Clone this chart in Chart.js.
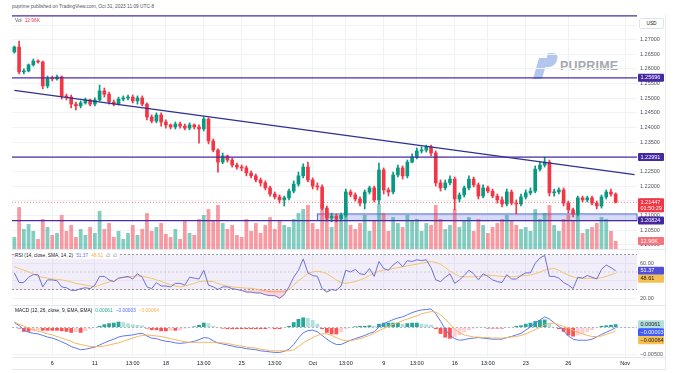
<!DOCTYPE html>
<html>
<head>
<meta charset="utf-8">
<title>GBPUSD 4H - PU Prime</title>
<script src="https://cdn.jsdelivr.net/npm/chart.js@4.4.1/dist/chart.umd.min.js"></script>
<style>
  html, body { margin: 0; padding: 0; background: #fff; }
  body { width: 679px; height: 373px; position: relative; overflow: hidden; font-family: "Liberation Sans", Arial, sans-serif; }
  canvas { position: absolute; left: 0; }
  #mainChart { top: 15px; }
  #rsiChart { top: 249px; }
  #macdChart { top: 305px; }
  .lbl { position: absolute; font-size: 4.8px; line-height: 6px; color: #131722; white-space: nowrap; }
  .lbl span { margin-left: 3px; }
  .line { position: absolute; background: #e6e8ee; }
  #usd { position: absolute; left: 639px; top: 18px; width: 23px; height: 9px; border: 1px solid #e0e3eb; border-radius: 2px; background: #fff;
         font-size: 4.8px; line-height: 9px; text-align: center; color: #131722; z-index: 5; }
  .logo { position: absolute; background: #b3c6ed; transform: skewX(-16deg); }
  #brand { position: absolute; left: 560px; top: 59px; font-size: 12.5px; font-weight: bold; color: #a5a8b0; letter-spacing: 0.2px; }
</style>
</head>
<body>
<div class="logo" style="left:536px;top:58px;width:9px;height:21px;"></div>
<div class="logo" style="left:546px;top:53px;width:11px;height:14px;border-radius:0 6px 6px 0;"></div>
<div id="brand">PUPRIME</div>

<canvas id="mainChart" width="679" height="234"></canvas>
<canvas id="rsiChart" width="679" height="56"></canvas>
<canvas id="macdChart" width="679" height="65"></canvas>

<div class="line" style="left:12px;top:249px;width:653px;height:1px;"></div>
<div class="line" style="left:12px;top:305px;width:653px;height:1px;"></div>
<div class="line" style="left:12px;top:357px;width:653px;height:1px;"></div>
<div class="line" style="left:12px;top:369px;width:653px;height:1px;"></div>
<div class="line" style="left:665px;top:15px;width:1px;height:355px;"></div>

<div class="lbl" style="left:12px;top:4px;color:#50535e;">puprime published on TradingView.com, Oct 31, 2023 11:09 UTC-8</div>
<div class="lbl" style="left:15px;top:18px;color:#50535e;">Vol<span style="color:#f23645;">12.96K</span></div>
<div class="lbl" style="left:15px;top:253px;background:#fff;padding-right:2px;">RSI (14, close, SMA, 14, 2)<span style="color:#6e6fdc;">51.37</span><span style="color:#f5b14c;">48.61</span><span style="color:#787b86;">∅</span><span style="color:#787b86;">∅</span></div>
<div class="lbl" style="left:15px;top:308px;">MACD (12, 26, close, 9, EMA, EMA)<span style="color:#26a69a;">0.00061</span><span style="color:#4d6ef5;">−0.00003</span><span style="color:#f5b14c;">−0.00064</span></div>
<div id="usd">USD</div>

<script>
// --- Données (GBPUSD 4H) ---
const firstOpen = 1.2658;
const closes = [
  1.2675, 1.2590, 1.2593, 1.2614, 1.2627, 1.2624, 1.2542, 1.2569, 1.2566, 1.2573,
  1.2508, 1.2504, 1.2480, 1.2474, 1.2484, 1.2494, 1.2480, 1.2494, 1.2525, 1.2514,
  1.2487, 1.2480, 1.2497, 1.2501, 1.2504, 1.2491, 1.2501, 1.2480, 1.2436, 1.2422,
  1.2443, 1.2419, 1.2409, 1.2402, 1.2412, 1.2405, 1.2398, 1.2409, 1.2402, 1.2395,
  1.2429, 1.2354, 1.2323, 1.2282, 1.2303, 1.2289, 1.2272, 1.2265, 1.2262, 1.2245,
  1.2235, 1.2221, 1.2211, 1.2194, 1.2173, 1.2163, 1.2153, 1.2160, 1.2183, 1.2207,
  1.2235, 1.2265, 1.2221, 1.2200, 1.2197, 1.2125, 1.2091, 1.2098, 1.2088, 1.2101,
  1.2180, 1.2170, 1.2156, 1.2142, 1.2180, 1.2194, 1.2153, 1.2255, 1.2187, 1.2180,
  1.2238, 1.2262, 1.2235, 1.2282, 1.2299, 1.2320, 1.2323, 1.2334, 1.2313, 1.2211,
  1.2194, 1.2211, 1.2224, 1.2156, 1.2170, 1.2194, 1.2224, 1.2204, 1.2166, 1.2194,
  1.2183, 1.2166, 1.2153, 1.2139, 1.2180, 1.2142, 1.2139, 1.2163, 1.2177, 1.2183,
  1.2258, 1.2272, 1.2282, 1.2177, 1.2180, 1.2187, 1.2142, 1.2119, 1.2105, 1.2160,
  1.2153, 1.2160, 1.2142, 1.2132, 1.2163, 1.2180, 1.2173, 1.21447
];
const highs = [
  1.2678, 1.2695, 1.2600, 1.2617, 1.2634, 1.2631, 1.2627, 1.2576, 1.2576, 1.2579,
  1.2576, 1.2514, 1.2511, 1.2487, 1.2491, 1.2501, 1.2497, 1.2501, 1.2545, 1.2535,
  1.2521, 1.2494, 1.2504, 1.2508, 1.2511, 1.2511, 1.2508, 1.2508, 1.2484, 1.2443,
  1.2450, 1.2450, 1.2426, 1.2412, 1.2419, 1.2419, 1.2412, 1.2416, 1.2412, 1.2409,
  1.2436, 1.2433, 1.2361, 1.2327, 1.2313, 1.2306, 1.2296, 1.2279, 1.2272, 1.2269,
  1.2252, 1.2241, 1.2228, 1.2218, 1.2200, 1.2180, 1.2170, 1.2166, 1.2190, 1.2218,
  1.2248, 1.2276, 1.2282, 1.2228, 1.2211, 1.2204, 1.2132, 1.2108, 1.2105, 1.2108,
  1.2190, 1.2187, 1.2177, 1.2163, 1.2187, 1.2200, 1.2200, 1.2279, 1.2262, 1.2194,
  1.2248, 1.2272, 1.2269, 1.2289, 1.2310, 1.2330, 1.2334, 1.2340, 1.2340, 1.2320,
  1.2221, 1.2221, 1.2235, 1.2231, 1.2177, 1.2200, 1.2235, 1.2231, 1.2211, 1.2204,
  1.2200, 1.2190, 1.2173, 1.2163, 1.2190, 1.2187, 1.2153, 1.2173, 1.2187, 1.2194,
  1.2269, 1.2282, 1.2299, 1.2289, 1.2190, 1.2194, 1.2194, 1.2149, 1.2125, 1.2166,
  1.2166, 1.2166, 1.2166, 1.2149, 1.2170, 1.2187, 1.2190, 1.2177
];
const lows = [
  1.2654, 1.2583, 1.2583, 1.2590, 1.2610, 1.2620, 1.2532, 1.2535, 1.2559, 1.2562,
  1.2497, 1.2494, 1.2467, 1.2460, 1.2467, 1.2480, 1.2474, 1.2474, 1.2491, 1.2504,
  1.2480, 1.2474, 1.2477, 1.2491, 1.2494, 1.2484, 1.2480, 1.2474, 1.2426, 1.2416,
  1.2416, 1.2405, 1.2398, 1.2395, 1.2395, 1.2398, 1.2392, 1.2392, 1.2395, 1.2347,
  1.2388, 1.2344, 1.2317, 1.2248, 1.2276, 1.2282, 1.2265, 1.2258, 1.2252, 1.2235,
  1.2228, 1.2214, 1.2200, 1.2187, 1.2166, 1.2156, 1.2142, 1.2132, 1.2153, 1.2177,
  1.2200, 1.2228, 1.2214, 1.2190, 1.2187, 1.2119, 1.2081, 1.2078, 1.2078, 1.2081,
  1.2095, 1.2163, 1.2149, 1.2132, 1.2122, 1.2173, 1.2146, 1.2139, 1.2173, 1.2166,
  1.2173, 1.2231, 1.2224, 1.2228, 1.2279, 1.2293, 1.2313, 1.2316, 1.2303, 1.2200,
  1.2183, 1.2187, 1.2204, 1.2119, 1.2146, 1.2163, 1.2187, 1.2197, 1.2156, 1.2160,
  1.2177, 1.2160, 1.2142, 1.2129, 1.2132, 1.2136, 1.2105, 1.2132, 1.2156, 1.2170,
  1.2177, 1.2252, 1.2265, 1.2166, 1.2166, 1.2173, 1.2132, 1.2108, 1.2095, 1.2098,
  1.2146, 1.2146, 1.2136, 1.2122, 1.2125, 1.2156, 1.2166, 1.2142
];
// volume en milliers
const volumes = [
  19.4, 68.0, 32.4, 40.5, 29.2, 16.2, 48.6, 35.6, 22.7, 25.9,
  55.1, 29.2, 38.9, 19.4, 32.4, 22.7, 35.6, 25.9, 61.6, 32.4,
  42.1, 19.4, 29.2, 16.2, 25.9, 38.9, 22.7, 32.4, 58.3, 29.2,
  35.6, 42.1, 24.3, 19.4, 32.4, 16.2, 45.4, 25.9, 22.7, 48.6,
  55.1, 64.8, 45.4, 71.3, 42.1, 32.4, 38.9, 22.7, 19.4, 48.6,
  29.2, 42.1, 25.9, 38.9, 51.8, 32.4, 45.4, 38.9, 35.6, 48.6,
  58.3, 64.8, 71.3, 42.1, 32.4, 72.9, 61.6, 35.6, 48.6, 45.4,
  68.0, 38.9, 32.4, 42.1, 55.1, 29.2, 45.4, 72.9, 58.3, 29.2,
  51.8, 42.1, 35.6, 55.1, 45.4, 48.6, 29.2, 42.1, 38.9, 71.3,
  48.6, 32.4, 38.9, 64.8, 35.6, 45.4, 51.8, 29.2, 48.6, 38.9,
  25.9, 35.6, 42.1, 48.6, 55.1, 45.4, 38.9, 32.4, 35.6, 29.2,
  64.8, 48.6, 58.3, 71.3, 38.9, 29.2, 48.6, 55.1, 45.4, 61.6,
  25.9, 32.4, 35.6, 42.1, 51.8, 48.6, 29.2, 12.96
];
const rsi = [
  49, 38, 38, 44, 47, 47, 33, 41, 41, 40,
  33, 32, 29, 29, 31, 32, 31, 35, 45, 45,
  41, 39, 43, 44, 45, 42, 48, 44, 33, 31,
  38, 34, 34, 33, 37, 37, 35, 44, 43, 42,
  52, 35, 33, 30, 33, 33, 31, 30, 29, 27,
  27, 26, 26, 24, 23, 23, 20, 24, 33, 44,
  52, 65, 49, 46, 45, 31, 27, 30, 29, 34,
  52, 50, 53, 48, 47, 54, 45, 62, 54, 52,
  58, 62, 56, 63, 62, 64, 63, 64, 55, 41,
  39, 44, 48, 37, 41, 46, 52, 48, 41, 48,
  45, 41, 39, 38, 47, 42, 42, 46, 49, 49,
  60, 66, 69, 45, 45, 43, 38, 35, 31, 44,
  43, 46, 44, 42, 53, 58, 55, 51.37
];
const rsiMa = [
  56, 54, 52, 50, 48, 45, 44, 43, 42, 41.5,
  41, 40, 38.5, 37, 36, 35, 34, 33, 35, 37,
  38.5, 40, 42.8, 43.5, 44, 45, 45.8, 45, 44, 42.8,
  41, 39.5, 37, 35.5, 34, 33, 34, 35.5, 37, 39,
  39.5, 39.5, 39, 37, 35, 34, 33, 32.5, 32, 31.5,
  31.4, 30.5, 29.5, 28.5, 27.5, 27.5, 27.5, 27.5, 30, 35,
  40, 44, 48.5, 50, 51, 50, 48, 44.6, 41, 38,
  37, 38, 39, 41, 43, 46, 49, 51, 52, 53,
  54, 55, 56, 57, 58, 59, 60, 61, 62, 61,
  59, 55, 51, 48, 45, 44.5, 44.5, 44.5, 45, 45.5,
  46.5, 46, 45.5, 45, 44.5, 44.5, 45, 45.5, 46, 46.5,
  48, 50, 52, 53.5, 54, 52, 49, 46.5, 44.5, 43,
  42.8, 42.8, 42.8, 43, 43.5, 45, 47, 48.61
];
const macdLine = [
  0.0009, 0.0004, -0.0005, -0.0009, -0.0011, -0.0012, -0.0015, -0.0018, -0.0020, -0.0023,
  -0.0027, -0.0031, -0.0036, -0.0039, -0.0042, -0.0041, -0.0039, -0.0037, -0.0033, -0.0029,
  -0.0025, -0.0022, -0.0018, -0.0016, -0.0015, -0.0014, -0.0012, -0.0011, -0.0016, -0.0020,
  -0.0021, -0.0024, -0.0026, -0.0027, -0.0029, -0.0030, -0.0029, -0.0028, -0.0026, -0.0023,
  -0.0019, -0.0020, -0.0025, -0.0029, -0.0031, -0.0033, -0.0035, -0.0037, -0.0038, -0.0040,
  -0.0041, -0.0042, -0.0044, -0.0045, -0.0046, -0.0047, -0.0047, -0.0045, -0.0041, -0.0032,
  -0.0020, -0.0010, -0.0006, -0.0005, -0.0008, -0.0015, -0.0022, -0.0028, -0.0032, -0.0032,
  -0.0028, -0.0024, -0.0021, -0.0018, -0.0015, -0.0011, -0.0008, 0.0001, 0.0007, 0.0011,
  0.0015, 0.0018, 0.0020, 0.0024, 0.0028, 0.0031, 0.0033, 0.0034, 0.0035, 0.0026,
  0.0012, -0.0003, -0.0015, -0.0021, -0.0024, -0.0023, -0.0021, -0.0020, -0.0019, -0.0020,
  -0.0021, -0.0022, -0.0022, -0.0022, -0.0019, -0.0017, -0.0014, -0.0011, -0.0005, 0.0001,
  0.0008, 0.0014, 0.0020, 0.0016, 0.0009, 0.0002, -0.0006, -0.0016, -0.0022, -0.0024,
  -0.0024, -0.0024, -0.0022, -0.0018, -0.0013, -0.0009, -0.0005, -0.00003
];
const signalLine = [
  0.0010, 0.0006, 0.0003, -0.0001, -0.0004, -0.0007, -0.0009, -0.0012, -0.0014, -0.0017,
  -0.0020, -0.0023, -0.0026, -0.0030, -0.0032, -0.0034, -0.0036, -0.0036, -0.0036, -0.0035,
  -0.0033, -0.0031, -0.0029, -0.0026, -0.0023, -0.0020, -0.0017, -0.0015, -0.0014, -0.0015,
  -0.0016, -0.0017, -0.0019, -0.0021, -0.0023, -0.0025, -0.0027, -0.0028, -0.0028, -0.0028,
  -0.0028, -0.0028, -0.0028, -0.0029, -0.0029, -0.0030, -0.0032, -0.0034, -0.0035, -0.0037,
  -0.0038, -0.0039, -0.0041, -0.0042, -0.0044, -0.0044, -0.0044, -0.0044, -0.0044, -0.0042,
  -0.0036, -0.0029, -0.0024, -0.0019, -0.0015, -0.0012, -0.0012, -0.0015, -0.0019, -0.0023,
  -0.0025, -0.0025, -0.0023, -0.0021, -0.0018, -0.0015, -0.0011, -0.0006, -0.0002, 0.0002,
  0.0006, 0.0009, 0.0013, 0.0016, 0.0019, 0.0022, 0.0026, 0.0028, 0.0030, 0.0029,
  0.0024, 0.0016, 0.0006, -0.0003, -0.0010, -0.0014, -0.0016, -0.0018, -0.0018, -0.0019,
  -0.0019, -0.0020, -0.0020, -0.0020, -0.0019, -0.0018, -0.0017, -0.0015, -0.0012, -0.0008,
  -0.0004, 0.0000, 0.0005, 0.0008, 0.0008, 0.0005, 0.0002, -0.0001, -0.0005, -0.0009,
  -0.0012, -0.0015, -0.0017, -0.0017, -0.0016, -0.0013, -0.0010, -0.00064
];
const macdHist = [
  -0.0001, -0.0002, -0.0008, -0.0008, -0.0007, -0.0005, -0.0006, -0.0006, -0.0006, -0.0006,
  -0.0007, -0.0008, -0.0010, -0.0009, -0.0010, -0.0007, -0.0003, -0.0001, 0.0003, 0.0006,
  0.0008, 0.0009, 0.0011, 0.0010, 0.0008, 0.0006, 0.0005, 0.0004, -0.0002, -0.0005,
  -0.0005, -0.0007, -0.0007, -0.0006, -0.0006, -0.0005, -0.0002, 0.0000, 0.0002, 0.0005,
  0.0009, 0.0008, 0.0003, 0.0000, -0.0002, -0.0003, -0.0003, -0.0003, -0.0003, -0.0003,
  -0.0003, -0.0003, -0.0003, -0.0003, -0.0002, -0.0003, -0.0003, -0.0001, 0.0003, 0.0010,
  0.0016, 0.0019, 0.0018, 0.0014, 0.0007, -0.0003, -0.0010, -0.0013, -0.0013, -0.0009,
  -0.0003, 0.0001, 0.0002, 0.0003, 0.0003, 0.0004, 0.0003, 0.0007, 0.0009, 0.0009,
  0.0009, 0.0009, 0.0007, 0.0008, 0.0009, 0.0009, 0.0007, 0.0006, 0.0005, -0.0003,
  -0.0012, -0.0019, -0.0021, -0.0018, -0.0014, -0.0009, -0.0005, -0.0002, -0.0001, -0.0001,
  -0.0002, -0.0002, -0.0002, -0.0002, 0.0000, 0.0001, 0.0003, 0.0004, 0.0007, 0.0009,
  0.0012, 0.0014, 0.0015, 0.0008, 0.0001, -0.0003, -0.0008, -0.0015, -0.0017, -0.0015,
  -0.0012, -0.0009, -0.0005, -0.0001, 0.0003, 0.0004, 0.0005, 0.00061
];

// libellés de l'axe du temps (index de bougie -> texte)
const xTickLabels = {
  8: '6', 17: '11', 25: '13:00', 32: '18', 40: '13:00', 48: '25', 55: '13:00', 63: 'Oct',
  70: '13:00', 78: '9', 85: '13:00', 93: '16', 100: '13:00', 108: '23', 117: '26', 129: 'Nov'
};
const emptyBarsRight = 4;

// dessins : niveaux horizontaux, oblique, zone de support
const levelPrices = [1.2781, 1.25696, 1.22991, 1.20824];
const trendFrom = 1.2527;
const trendTo = 1.2239;
const zoneStartBar = 64;
const zoneTop = 1.2105;
const zoneBottom = 1.20824;
const countdown = '01:50:29';

// --- Couleurs ---
const UP = '#089981', DOWN = '#f23645';
const UP_VOL = 'rgba(8,153,129,0.5)', DOWN_VOL = 'rgba(242,54,69,0.5)';
const LEVEL_COLOR = '#4a2ca5';
const GRID = '#f1f2f6';
const FONT = '"Liberation Sans", Arial, sans-serif';

Chart.defaults.font.family = FONT;
Chart.defaults.animation = false;

const nSlots = closes.length + emptyBarsRight;
const slots = Array.from({ length: nSlots }, (_, i) => i);
const opens = closes.map((c, i) => i === 0 ? firstOpen : closes[i - 1]);
const isUp = closes.map((c, i) => c >= opens[i]);
const lastPrice = closes[closes.length - 1];
const lastVol = volumes[volumes.length - 1];

function xAxis(showLabels) {
  return {
    offset: true,
    grid: {
      offset: false,
      drawTicks: false,
      color: c => (xTickLabels[c.index] !== undefined) ? GRID : 'rgba(0,0,0,0)'
    },
    border: { display: false },
    ticks: {
      display: showLabels,
      autoSkip: false,
      maxRotation: 0,
      padding: 3,
      color: '#131722',
      font: { size: 5.5 },
      callback: (v, i) => xTickLabels[i] ?? ''
    },
    afterFit: s => { s.height = showLabels ? 13 : 0; }
  };
}

function yAxis(min, max, step, fmt) {
  return {
    position: 'right',
    min, max,
    grid: { color: GRID, drawTicks: false },
    border: { display: false },
    ticks: {
      stepSize: step,
      includeBounds: false,
      padding: 3,
      color: '#50535e',
      font: { size: 5.5 },
      callback: fmt
    },
    afterFit: s => { s.width = 28; s.paddingTop = 0; s.paddingBottom = 0; }
  };
}

// étiquettes colorées sur l'axe de droite (décalées pour ne pas se chevaucher)
function drawBadges(chart, items) {
  const ctx = chart.ctx, area = chart.chartArea;
  const x = area.right + 1, w = 26;
  const placed = items
    .map(it => ({ ...it, y: chart.scales[it.axis].getPixelForValue(it.value) }))
    .filter(it => it.y > area.top + 6)
    .sort((a, b) => a.y - b.y);
  let lastBottom = -Infinity;
  ctx.save();
  ctx.font = '5.5px ' + FONT;
  ctx.textBaseline = 'middle';
  ctx.textAlign = 'left';
  placed.forEach(b => {
    const h = b.lines.length * 6 + 2;
    let top = b.y - 4;
    if (top < lastBottom) top = lastBottom;
    ctx.fillStyle = b.bg;
    ctx.beginPath();
    ctx.roundRect(x, top, w, h, 1);
    ctx.fill();
    ctx.fillStyle = b.fg;
    b.lines.forEach((t, k) => ctx.fillText(t, x + 2.5, top + 4 + k * 6));
    lastBottom = top + h;
  });
  ctx.restore();
}

// --- Graphique principal : bougies + volume ---
const mainOverlay = {
  id: 'mainOverlay',
  beforeDatasetsDraw(chart) {
    const { ctx, chartArea: a, scales: { x, y } } = chart;
    const left = x.getPixelForValue(zoneStartBar);
    const top = y.getPixelForValue(zoneTop), bottom = y.getPixelForValue(zoneBottom);
    ctx.save();
    ctx.fillStyle = 'rgba(92,110,225,0.25)';
    ctx.fillRect(left, top, a.right - left, bottom - top);
    ctx.strokeStyle = '#5468d8';
    ctx.lineWidth = 1;
    ctx.strokeRect(left, top, a.right - left, bottom - top);
    ctx.restore();
  },
  afterDatasetsDraw(chart) {
    const { ctx, chartArea: a, scales: { y } } = chart;
    ctx.save();
    ctx.strokeStyle = LEVEL_COLOR;
    ctx.lineWidth = 1.3;
    levelPrices.forEach(p => {
      const py = y.getPixelForValue(p);
      ctx.beginPath(); ctx.moveTo(a.left, py); ctx.lineTo(a.right, py); ctx.stroke();
    });
    const ly = y.getPixelForValue(lastPrice);
    ctx.strokeStyle = 'rgba(242,54,69,0.6)';
    ctx.lineWidth = 1;
    ctx.setLineDash([1, 2]);
    ctx.beginPath(); ctx.moveTo(a.left, ly); ctx.lineTo(a.right, ly); ctx.stroke();
    ctx.restore();
  },
  afterDraw(chart) {
    const items = levelPrices.map(p => ({ axis: 'y', value: p, lines: [p.toFixed(5)], bg: '#4527a0', fg: '#fff' }));
    items.push({ axis: 'y', value: lastPrice, lines: [lastPrice.toFixed(5), countdown], bg: DOWN, fg: '#fff' });
    items.push({ axis: 'yVol', value: lastVol, lines: [lastVol.toFixed(2) + 'K'], bg: '#f6747e', fg: '#fff' });
    drawBadges(chart, items);
  }
};

const trendData = slots.map(i => i === 0 ? trendFrom : (i === nSlots - 1 ? trendTo : null));

new Chart(document.getElementById('mainChart'), {
  type: 'bar',
  data: {
    labels: slots,
    datasets: [
      {
        label: 'Volume', data: volumes, yAxisID: 'yVol', order: 3,
        backgroundColor: volumes.map((v, i) => isUp[i] ? UP_VOL : DOWN_VOL),
        barPercentage: 0.8, categoryPercentage: 1, grouped: false
      },
      {
        label: 'Mèches', data: lows.map((l, i) => [l, highs[i]]), order: 2,
        backgroundColor: isUp.map(u => u ? UP : DOWN), barThickness: 1, grouped: false
      },
      {
        label: 'Corps', data: opens.map((o, i) => [o, closes[i]]), order: 1,
        backgroundColor: isUp.map(u => u ? UP : DOWN), barThickness: 3, minBarLength: 1, grouped: false
      },
      {
        type: 'line', label: 'Tendance', data: trendData, order: 0, spanGaps: true,
        borderColor: '#2f3191', borderWidth: 1.3, pointRadius: 0
      }
    ]
  },
  options: {
    responsive: false,
    devicePixelRatio: 1,
    layout: { padding: { left: 12, right: 14, top: 0, bottom: 0 } },
    plugins: { legend: { display: false }, tooltip: { enabled: false } },
    scales: {
      x: xAxis(false),
      y: yAxis(1.19853, 1.27842, 0.005, v => v.toFixed(5)),
      yVol: { display: false, position: 'left', min: 0, max: 380 }
    }
  },
  plugins: [mainOverlay]
});

// --- RSI ---
const rsiOverlay = {
  id: 'rsiOverlay',
  beforeDatasetsDraw(chart) {
    const { ctx, chartArea: a, scales: { y } } = chart;
    const y70 = y.getPixelForValue(70), y50 = y.getPixelForValue(50), y30 = y.getPixelForValue(30);
    ctx.save();
    ctx.fillStyle = 'rgba(126,87,194,0.1)';
    ctx.fillRect(a.left, y70, a.right - a.left, y30 - y70);
    ctx.setLineDash([2, 2]);
    ctx.lineWidth = 1;
    ctx.strokeStyle = '#9598a1';
    [y70, y30].forEach(py => { ctx.beginPath(); ctx.moveTo(a.left, py); ctx.lineTo(a.right, py); ctx.stroke(); });
    ctx.strokeStyle = 'rgba(149,152,161,0.4)';
    ctx.beginPath(); ctx.moveTo(a.left, y50); ctx.lineTo(a.right, y50); ctx.stroke();
    ctx.restore();
  },
  afterDraw(chart) {
    drawBadges(chart, [
      { axis: 'y', value: rsi[rsi.length - 1], lines: [rsi[rsi.length - 1].toFixed(2)], bg: '#5350d8', fg: '#fff' },
      { axis: 'y', value: rsiMa[rsiMa.length - 1], lines: [rsiMa[rsiMa.length - 1].toFixed(2)], bg: '#f7bf4f', fg: '#131722' }
    ]);
  }
};

new Chart(document.getElementById('rsiChart'), {
  type: 'line',
  data: {
    labels: slots,
    datasets: [
      {
        label: 'RSI', data: rsi, borderColor: '#6e6fdc', borderWidth: 1, pointRadius: 0, order: 0,
        fill: { target: { value: 30 }, above: 'rgba(0,0,0,0)', below: 'rgba(242,54,69,0.22)' }
      },
      { label: 'RSI MA', data: rsiMa, borderColor: '#f5c26b', borderWidth: 1, pointRadius: 0, order: 1 }
    ]
  },
  options: {
    responsive: false,
    devicePixelRatio: 1,
    layout: { padding: { left: 12, right: 14, top: 0, bottom: 0 } },
    plugins: { legend: { display: false }, tooltip: { enabled: false } },
    scales: {
      x: xAxis(false),
      y: yAxis(12.3, 76.3, 20, v => v.toFixed(2))
    }
  },
  plugins: [rsiOverlay]
});

// --- MACD ---
const histColors = macdHist.map((h, i) => {
  const prev = i === 0 ? h : macdHist[i - 1];
  if (h >= 0) return h >= prev ? '#26a69a' : '#b2dfdb';
  return h <= prev ? '#ff5252' : '#ffcdd2';
});

const macdOverlay = {
  id: 'macdOverlay',
  beforeDatasetsDraw(chart) {
    const { ctx, chartArea: a, scales: { y } } = chart;
    const y0 = y.getPixelForValue(0);
    ctx.save();
    ctx.setLineDash([2, 2]);
    ctx.strokeStyle = '#b2b5be';
    ctx.lineWidth = 1;
    ctx.beginPath(); ctx.moveTo(a.left, y0); ctx.lineTo(a.right, y0); ctx.stroke();
    ctx.restore();
  },
  afterDraw(chart) {
    const fmt = v => (v < 0 ? '−' : '') + Math.abs(v).toFixed(5);
    const n = macdHist.length - 1;
    drawBadges(chart, [
      { axis: 'y', value: macdHist[n], lines: [fmt(macdHist[n])], bg: '#b2dfdb', fg: '#131722' },
      { axis: 'y', value: macdLine[n], lines: [fmt(macdLine[n])], bg: '#3d5afe', fg: '#fff' },
      { axis: 'y', value: signalLine[n], lines: [fmt(signalLine[n])], bg: '#f7bf4f', fg: '#131722' }
    ]);
  }
};

new Chart(document.getElementById('macdChart'), {
  type: 'bar',
  data: {
    labels: slots,
    datasets: [
      { label: 'Histogramme', data: macdHist, backgroundColor: histColors, barPercentage: 0.8, categoryPercentage: 1, order: 2 },
      { type: 'line', label: 'MACD', data: macdLine, borderColor: '#5a78f2', borderWidth: 1, pointRadius: 0, order: 1 },
      { type: 'line', label: 'Signal', data: signalLine, borderColor: '#f5b75c', borderWidth: 1, pointRadius: 0, order: 0 }
    ]
  },
  options: {
    responsive: false,
    devicePixelRatio: 1,
    layout: { padding: { left: 12, right: 14, top: 0, bottom: 0 } },
    plugins: { legend: { display: false }, tooltip: { enabled: false } },
    scales: {
      x: xAxis(true),
      y: yAxis(-0.005566, 0.004245, 0.005, v => (v < 0 ? '−' : '') + Math.abs(v).toFixed(5))
    }
  },
  plugins: [macdOverlay]
});
</script>
</body>
</html>
